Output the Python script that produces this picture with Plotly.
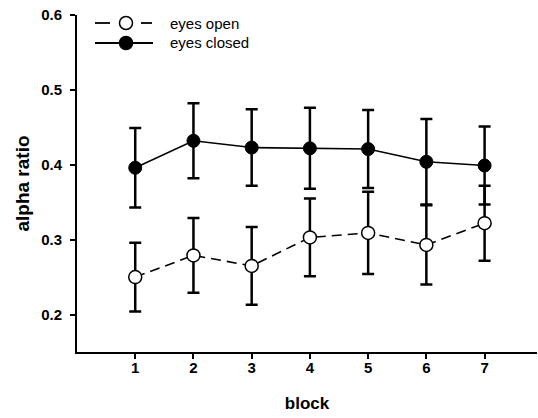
import plotly.graph_objects as go

blocks = [1, 2, 3, 4, 5, 6, 7]
eyes_open = [0.250, 0.279, 0.265, 0.303, 0.309, 0.293, 0.322]
eyes_open_err = [0.046, 0.050, 0.052, 0.052, 0.055, 0.053, 0.050]
eyes_closed = [0.396, 0.432, 0.423, 0.422, 0.421, 0.404, 0.399]
eyes_closed_err = [0.053, 0.050, 0.051, 0.054, 0.052, 0.057, 0.052]
y_ticks = [0.2, 0.3, 0.4, 0.5, 0.6]
x_ticks = [1, 2, 3, 4, 5, 6, 7]
series_names = ["eyes open", "eyes closed"]

FONT = "Liberation Sans, Arial, sans-serif"

# plot area in pixels (for placing the hand-drawn legend)
L, R, T, B = 77, 1, 15, 66
W, H = 538, 418
PW, PH = W - L - R, H - T - B


def px(x):
    return (x - L) / PW


def py(y):
    return (H - B - y) / PH


fig = go.Figure()
fig.add_trace(go.Scatter(
    x=blocks, y=eyes_open, name=series_names[0], mode="lines+markers",
    line=dict(color="black", width=1.6, dash="10px,6px"),
    marker=dict(symbol="circle", size=13, color="white", line=dict(color="black", width=1.5)),
    error_y=dict(type="data", array=eyes_open_err, visible=True, color="black", thickness=2.5, width=6),
))
fig.add_trace(go.Scatter(
    x=blocks, y=eyes_closed, name=series_names[1], mode="lines+markers",
    line=dict(color="black", width=1.6),
    marker=dict(symbol="circle", size=13, color="black", line=dict(color="black", width=1)),
    error_y=dict(type="data", array=eyes_closed_err, visible=True, color="black", thickness=2.5, width=6),
))

# hand-drawn legend
shapes = []
annotations = []
rows = [23, 43]
for i, (name, yy) in enumerate(zip(series_names, rows)):
    if i == 0:
        segs = [(95, 110), (141, 152)]
        fill = "white"
    else:
        segs = [(95, 153)]
        fill = "black"
    for a, b in segs:
        shapes.append(dict(type="line", xref="paper", yref="paper",
                           x0=px(a), x1=px(b), y0=py(yy), y1=py(yy),
                           line=dict(color="black", width=1.8)))
    shapes.append(dict(type="circle", xref="paper", yref="paper",
                       xsizemode="pixel", ysizemode="pixel",
                       xanchor=px(126), yanchor=py(yy),
                       x0=-6.5, x1=6.5, y0=-6.5, y1=6.5,
                       fillcolor=fill, line=dict(color="black", width=1.5)))
    annotations.append(dict(text=name, xref="paper", yref="paper",
                            x=px(168), y=py(yy), xanchor="left", yanchor="middle",
                            showarrow=False, font=dict(size=15, family=FONT, color="black")))

fig.update_layout(
    width=W, height=H,
    margin=dict(l=L, r=R, t=T, b=B),
    paper_bgcolor="white", plot_bgcolor="white",
    font=dict(family=FONT, color="black"),
    showlegend=False,
    shapes=shapes,
    annotations=annotations,
    xaxis=dict(range=[0, 7.9], tickvals=x_ticks, ticktext=[str(v) for v in x_ticks],
               showgrid=False, zeroline=False, showline=True, linecolor="black", linewidth=2,
               ticks="outside", ticklen=5, tickwidth=1.5, tickcolor="black",
               ticklabelstandoff=-4,
               tickfont=dict(size=15, family=FONT, weight="bold"),
               title=dict(text="<b>block</b>", font=dict(size=17, family=FONT), standoff=22)),
    yaxis=dict(range=[0.15, 0.6], tickvals=y_ticks, ticktext=[f"{v:.1f}" for v in y_ticks],
               showgrid=False, zeroline=False, showline=True, linecolor="black", linewidth=2,
               ticks="outside", ticklen=5, tickwidth=1.5, tickcolor="black",
               ticklabelstandoff=5,
               tickfont=dict(size=15, family=FONT, weight="bold"),
               title=dict(text="<b>alpha ratio</b>", font=dict(size=19, family=FONT), standoff=6)),
)

fig.write_html("out.html")
